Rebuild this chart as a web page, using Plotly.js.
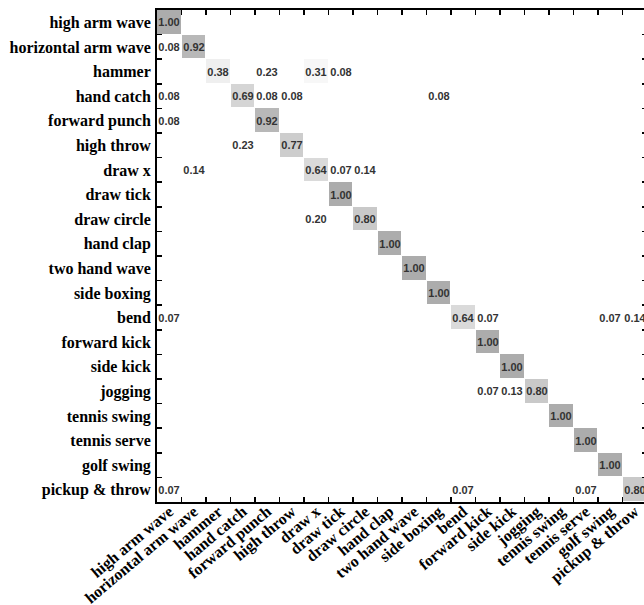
<!DOCTYPE html>
<html>
<head>
<meta charset="utf-8">
<script src="https://cdn.plot.ly/plotly-3.0.1.min.js"></script>
<style>
html, body { margin: 0; padding: 0; overflow: hidden; background: #fff; }
#chart { width: 647px; height: 605px; }
</style>
</head>
<body>
<div id="chart"></div>
<script>
const labels = ["high arm wave", "horizontal arm wave", "hammer", "hand catch", "forward punch",
  "high throw", "draw x", "draw tick", "draw circle", "hand clap", "two hand wave", "side boxing",
  "bend", "forward kick", "side kick", "jogging", "tennis swing", "tennis serve", "golf swing",
  "pickup & throw"];

// rows = actual class, columns = predicted class
const rowHighArmWave     = [1.00,0,0,0,0,0,0,0,0,0,0,0,0,0,0,0,0,0,0,0];
const rowHorizArmWave    = [0.08,0.92,0,0,0,0,0,0,0,0,0,0,0,0,0,0,0,0,0,0];
const rowHammer          = [0,0,0.38,0,0.23,0,0.31,0.08,0,0,0,0,0,0,0,0,0,0,0,0];
const rowHandCatch       = [0.08,0,0,0.69,0.08,0.08,0,0,0,0,0,0.08,0,0,0,0,0,0,0,0];
const rowForwardPunch    = [0.08,0,0,0,0.92,0,0,0,0,0,0,0,0,0,0,0,0,0,0,0];
const rowHighThrow       = [0,0,0,0.23,0,0.77,0,0,0,0,0,0,0,0,0,0,0,0,0,0];
const rowDrawX           = [0,0.14,0,0,0,0,0.64,0.07,0.14,0,0,0,0,0,0,0,0,0,0,0];
const rowDrawTick        = [0,0,0,0,0,0,0,1.00,0,0,0,0,0,0,0,0,0,0,0,0];
const rowDrawCircle      = [0,0,0,0,0,0,0.20,0,0.80,0,0,0,0,0,0,0,0,0,0,0];
const rowHandClap        = [0,0,0,0,0,0,0,0,0,1.00,0,0,0,0,0,0,0,0,0,0];
const rowTwoHandWave     = [0,0,0,0,0,0,0,0,0,0,1.00,0,0,0,0,0,0,0,0,0];
const rowSideBoxing      = [0,0,0,0,0,0,0,0,0,0,0,1.00,0,0,0,0,0,0,0,0];
const rowBend            = [0.07,0,0,0,0,0,0,0,0,0,0,0,0.64,0.07,0,0,0,0,0.07,0.14];
const rowForwardKick     = [0,0,0,0,0,0,0,0,0,0,0,0,0,1.00,0,0,0,0,0,0];
const rowSideKick        = [0,0,0,0,0,0,0,0,0,0,0,0,0,0,1.00,0,0,0,0,0];
const rowJogging         = [0,0,0,0,0,0,0,0,0,0,0,0,0,0.07,0.13,0.80,0,0,0,0];
const rowTennisSwing     = [0,0,0,0,0,0,0,0,0,0,0,0,0,0,0,0,1.00,0,0,0];
const rowTennisServe     = [0,0,0,0,0,0,0,0,0,0,0,0,0,0,0,0,0,1.00,0,0];
const rowGolfSwing       = [0,0,0,0,0,0,0,0,0,0,0,0,0,0,0,0,0,0,1.00,0];
const rowPickupThrow     = [0.07,0,0,0,0,0,0,0,0,0,0,0,0.07,0,0,0,0,0.07,0,0.80];

const matrix = [rowHighArmWave, rowHorizArmWave, rowHammer, rowHandCatch, rowForwardPunch,
  rowHighThrow, rowDrawX, rowDrawTick, rowDrawCircle, rowHandClap, rowTwoHandWave, rowSideBoxing,
  rowBend, rowForwardKick, rowSideKick, rowJogging, rowTennisSwing, rowTennisServe, rowGolfSwing,
  rowPickupThrow];

const z = matrix.map(r => r.map(v => v > 0 ? v : null));
const txt = matrix.map(r => r.map(v => v > 0 ? v.toFixed(2) : ""));

const tickFont = { family: "Liberation Serif, Times New Roman, serif", size: 16, color: "#000", weight: "bold" };

const trace = {
  type: "heatmap",
  x: labels,
  y: labels,
  z: z,
  text: txt,
  texttemplate: "%{text}",
  textfont: { family: "Liberation Sans, Arial, sans-serif", size: 11, color: "#333", weight: "bold" },
  colorscale: [[0, "#ffffff"], [0.15, "#f0f0f0"], [0.55, "#d8d8d8"], [0.75, "#c8c8c8"], [1, "#acacac"]],
  zmin: 0.25,
  zmax: 1,
  showscale: false,
  xgap: 1,
  ygap: 1,
  hoverongaps: false
};

const layout = {
  width: 647,
  height: 605,
  margin: { l: 157, r: 0, t: 10, b: 103 },
  paper_bgcolor: "#fff",
  plot_bgcolor: "#fff",
  showlegend: false,
  xaxis: {
    type: "category",
    tickangle: -40,
    tickfont: tickFont,
    ticks: "inside",
    tickson: "boundaries",
    ticklen: 5,
    tickwidth: 1.5,
    tickcolor: "#000",
    showline: true,
    linecolor: "#000",
    linewidth: 2,
    mirror: "ticks",
    showgrid: false,
    zeroline: false,
    ticklabelstandoff: -8,
    fixedrange: true
  },
  yaxis: {
    type: "category",
    autorange: "reversed",
    tickfont: tickFont,
    ticks: "inside",
    tickson: "boundaries",
    ticklen: 5,
    tickwidth: 1.5,
    tickcolor: "#000",
    showline: true,
    linecolor: "#000",
    linewidth: 2,
    mirror: "ticks",
    showgrid: false,
    zeroline: false,
    ticklabelstandoff: 1,
    fixedrange: true
  }
};

Plotly.newPlot("chart", [trace], layout, { displayModeBar: false, staticPlot: true });
</script>
</body>
</html>
